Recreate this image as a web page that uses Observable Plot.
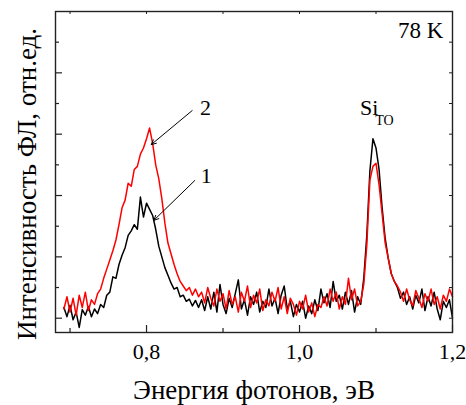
<!DOCTYPE html>
<html><head><meta charset="utf-8">
<script src="https://cdn.jsdelivr.net/npm/d3@7"></script>
<script src="https://cdn.jsdelivr.net/npm/@observablehq/plot@0.6"></script>
<style>body{margin:0;background:#fff;}</style>
</head><body><div id="chart"></div>
<script>
// Photon energy grid, eV
const energy = [
0.692,0.696,0.700,0.704,0.708,0.712,0.716,0.720,0.724,0.728,
0.732,0.736,0.740,0.744,0.748,0.752,0.756,0.760,0.764,0.768,
0.772,0.776,0.780,0.784,0.788,0.792,0.796,0.800,0.804,0.808,
0.812,0.816,0.820,0.824,0.828,0.832,0.836,0.840,0.844,0.848,
0.852,0.856,0.860,0.864,0.868,0.872,0.876,0.880,0.884,0.888,
0.892,0.896,0.900,0.904,0.908,0.912,0.916,0.920,0.924,0.928,
0.932,0.936,0.940,0.944,0.948,0.952,0.956,0.960,0.964,0.968,
0.972,0.976,0.980,0.984,0.988,0.992,0.996,1.000,1.004,1.008,
1.012,1.016,1.020,1.024,1.028,1.032,1.036,1.040,1.044,1.048,
1.052,1.056,1.060,1.064,1.068,1.072,1.076,1.080,1.084,1.088,
1.092,1.096,1.100,1.104,1.108,1.112,1.116,1.120,1.124,1.128,
1.132,1.136,1.140,1.144,1.148,1.152,1.156,1.160,1.164,1.168,
1.172,1.176,1.180,1.184,1.188,1.192,1.196,1.200];

// Curve 1 (black), arb. units
const curve1 = [
0.35,0.05,0.42,-0.05,0.20,-0.30,0.28,0.10,0.38,0.05,
0.30,0.15,0.45,0.35,0.75,0.85,1.35,1.30,1.75,2.05,
2.30,2.70,2.85,3.05,2.90,3.95,3.30,3.75,3.55,3.35,
2.90,2.35,2.00,1.65,1.40,1.15,0.95,1.00,0.70,0.75,
0.55,0.62,0.40,0.58,0.35,0.60,0.25,0.70,0.30,0.85,
0.20,1.10,0.45,0.15,0.65,0.35,0.80,1.25,0.30,0.60,
0.10,0.70,0.45,0.85,0.20,0.55,0.35,0.95,0.40,0.65,
0.15,0.75,1.05,0.30,0.55,0.05,0.45,0.20,0.55,0.00,
0.40,0.15,0.60,0.25,0.95,0.50,0.80,0.35,1.20,0.55,
0.75,0.30,0.85,0.45,0.90,0.20,0.70,0.45,1.30,2.70,
4.80,5.85,5.55,4.85,3.60,2.60,1.95,1.45,1.20,1.00,
0.65,0.85,0.45,0.70,0.30,0.75,0.50,0.95,0.25,0.70,
0.40,0.85,0.30,-0.05,0.55,0.35,0.60,0.00];

// Curve 2 (red), arb. units
const curve2 = [
0.30,0.70,0.20,0.65,0.10,0.75,0.35,0.85,0.25,0.60,
0.45,0.80,0.95,1.30,1.60,1.90,2.20,2.55,3.05,3.60,
3.85,4.40,4.30,4.85,4.95,5.35,5.55,5.85,6.20,5.70,
5.00,4.55,3.90,3.10,2.45,2.10,1.75,1.45,1.20,1.05,
0.90,1.00,0.75,0.95,0.70,0.85,0.50,1.00,0.65,0.40,
0.95,0.55,0.80,0.30,0.90,0.45,0.70,0.20,0.85,0.55,
1.05,0.35,0.75,0.50,0.95,0.25,0.60,0.40,0.85,0.55,
1.00,0.30,0.70,0.15,0.65,0.45,0.10,0.55,0.30,0.75,
0.20,0.50,0.05,0.45,0.35,0.70,0.40,0.95,0.55,0.85,
0.30,0.70,0.45,1.30,0.60,0.95,0.40,0.55,1.10,2.40,
4.50,4.95,5.05,4.35,3.40,2.45,1.95,1.45,1.20,1.05,
0.85,0.55,0.95,0.60,0.40,0.90,0.65,0.35,0.80,0.55,
0.95,0.45,0.70,0.30,0.75,0.55,0.95,0.70];

const xMajor = [0.8, 1.0, 1.2];
const xTickLabels = ["0,8", "1,0", "1,2"];
const xMinor = [0.7, 0.9, 1.1];
const yMajor = [0, 2, 4, 6, 8];
const yMinor = [1, 3, 5, 7, 9];
const xLabel = "Энергия фотонов, эВ";
const yLabel = "Интенсивность ФЛ, отн.ед.";
const tempLabel = "78 K";
// annotations (data coordinates)
const curveLabels = ["2", "1"];
const curveLabelX = [0.877, 0.878];
const curveLabelY = [6.63, 4.40];
const arrowFromX = [0.8597, 0.8631];
const arrowFromY = [6.77, 4.49];
const arrowToX = [0.8061, 0.8095];
const arrowToY = [5.66, 3.19];
const siLabel = "Si", siSub = "TO";
const siX = 1.0790, siY = 6.63, siSubX = 1.0990, siSubY = 6.30;
const tempX = 1.188, tempY = 9.12;

const xDom = [0.681, 1.2], yDom = [-0.466, 10];
const W = 466, H = 405, mL = 55, mR = 14, mT = 11, mB = 73;
const pxX = (xDom[1] - xDom[0]) / (W - mL - mR);
const pxY = (yDom[1] - yDom[0]) / (H - mT - mB);

const d1 = energy.map((e, i) => ({e, v: curve1[i]}));
const d2 = energy.map((e, i) => ({e, v: curve2[i]}));
const arrows = curveLabels.map((t, i) => ({x1: arrowFromX[i], y1: arrowFromY[i], x2: arrowToX[i], y2: arrowToY[i]}));
const labs = curveLabels.map((t, i) => ({t, x: curveLabelX[i], y: curveLabelY[i]}));

const axisColor = "#222";
const chart = Plot.plot({
  width: W, height: H,
  marginLeft: mL, marginRight: mR, marginTop: mT, marginBottom: mB,
  x: {domain: xDom, axis: null},
  y: {domain: yDom, axis: null},
  style: {fontFamily: "Liberation Serif", background: "white", color: "black"},
  marks: [
    Plot.line(d1, {x: "e", y: "v", stroke: "black", strokeWidth: 1.5}),
    Plot.line(d2, {x: "e", y: "v", stroke: "#ff0000", strokeWidth: 1.5}),
    // ticks (inward)
    Plot.ruleX(xMajor, {x: d => d, y1: yDom[0], y2: yDom[0] + 7 * pxY, stroke: axisColor, strokeWidth: 1.2}),
    Plot.ruleX(xMinor, {x: d => d, y1: yDom[0], y2: yDom[0] + 4 * pxY, stroke: axisColor, strokeWidth: 1.2}),
    Plot.ruleX(xMajor.concat(xMinor), {x: d => d, y1: yDom[1], y2: yDom[1] - 3 * pxY, stroke: axisColor, strokeWidth: 1}),
    Plot.ruleY(yMajor, {y: d => d, x1: xDom[0], x2: xDom[0] + 7 * pxX, stroke: axisColor, strokeWidth: 1.2}),
    Plot.ruleY(yMinor, {y: d => d, x1: xDom[0], x2: xDom[0] + 4 * pxX, stroke: axisColor, strokeWidth: 1.2}),
    Plot.ruleY(yMajor.concat(yMinor), {y: d => d, x1: xDom[1], x2: xDom[1] - 3 * pxX, stroke: axisColor, strokeWidth: 1}),
    Plot.frame({stroke: axisColor, strokeWidth: 1.4}),
    // tick labels
    Plot.text(xMajor, {x: d => d, text: (d, i) => xTickLabels[i], frameAnchor: "bottom", lineAnchor: "bottom", dy: 26, fontSize: 22, fill: "black"}),
    // axis titles
    Plot.text([xLabel], {text: d => d, frameAnchor: "bottom", textAnchor: "middle", lineAnchor: "bottom", dy: 66, fontSize: 27, fill: "black"}),
    Plot.text([yLabel], {text: d => d, frameAnchor: "left", textAnchor: "middle", rotate: -90, lineAnchor: "bottom", dx: -20, dy: 12, fontSize: 27, fill: "black"}),
    // annotations
    Plot.text([tempLabel], {text: d => d, x: tempX, y: tempY, textAnchor: "end", lineAnchor: "bottom", fontSize: 23, fill: "black"}),
    Plot.text([siLabel], {text: d => d, x: siX, y: siY, textAnchor: "start", lineAnchor: "bottom", fontSize: 22, fill: "black"}),
    Plot.text([siSub], {text: d => d, x: siSubX, y: siSubY, textAnchor: "start", lineAnchor: "bottom", fontSize: 14, fill: "black"}),
    Plot.text(labs, {text: "t", x: "x", y: "y", lineAnchor: "bottom", fontSize: 22, fill: "black"}),
    Plot.arrow(arrows, {x1: "x1", y1: "y1", x2: "x2", y2: "y2", stroke: "black", strokeWidth: 1, headLength: 8, headAngle: 50})
  ]
});
document.getElementById("chart").append(chart);
</script>
</body></html>
